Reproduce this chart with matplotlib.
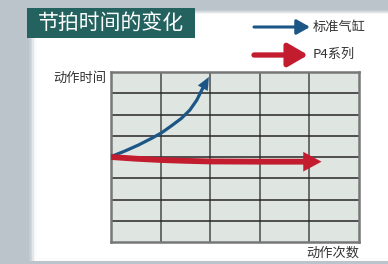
import matplotlib.pyplot as plt
from matplotlib.patches import Rectangle

plt.rcParams['font.family'] = ['Noto Sans CJK SC', 'DejaVu Sans']

title = '节拍时间的变化'
x_label = '动作次数'
y_label = '动作时间'
series_names = ['标准气缸', 'P4系列']

# standard cylinder: time grows with number of actions
std_x = [0.0, 0.28, 0.55, 0.82, 1.02, 1.22, 1.42, 1.59, 1.73, 1.83, 1.9, 2.0]
std_y = [4.02, 4.28, 4.56, 4.88, 5.14, 5.47, 5.82, 6.21, 6.68, 7.15, 7.45, 7.88]
# P4 series: stays almost flat
p4_x = [0.0, 0.5, 1.0, 1.5, 2.0, 3.0, 3.9, 4.3]
p4_y = [4.0, 3.92, 3.86, 3.82, 3.79, 3.78, 3.78, 3.78]

n_cols = 5
n_rows = 8

blue = '#1b5686'
red = '#c21c2e'
teal = '#23625f'

fig = plt.figure(figsize=(3.88, 2.64), dpi=100)
fig.patch.set_facecolor('#bcc4cb')

W, H = 388.0, 264.0
# soft shadow of the white card
for i, a in enumerate([0.15, 0.25, 0.4, 0.6, 0.8]):
    fig.patches.append(Rectangle(((29 + i * 1.5) / W, 3 / H),
                                 1, (251 - i * 1.0) / H,
                                 transform=fig.transFigure, facecolor='white',
                                 alpha=a, edgecolor='none', zorder=0))
fig.patches.append(Rectangle((37 / W, 6 / H), 1, 244 / H,
                             transform=fig.transFigure, facecolor='white',
                             edgecolor='none', zorder=0))

# title box
fig.patches.append(Rectangle((27 / W, (H - 38) / H), 168 / W, 30 / H,
                             transform=fig.transFigure, facecolor=teal,
                             edgecolor='none', zorder=1))
fig.text(111 / W, (H - 23) / H, title, color='white', fontsize=15,
         ha='center', va='center', zorder=2)

ax = fig.add_axes([111 / W, 22 / H, 248 / W, 170 / H])
ax.set_zorder(5)
ax.set_facecolor('#dfe5e1')
ax.set_xlim(0, n_cols)
ax.set_ylim(0, n_rows)
for i in range(1, n_cols):
    ax.axvline(i, color='#4a4a4a', lw=1.1, zorder=1)
for j in range(1, n_rows):
    ax.axhline(j, color='#262626', lw=1.1, zorder=1)
for s in ax.spines.values():
    s.set_color('#777777')
    s.set_linewidth(1.8)
ax.set_xticks([])
ax.set_yticks([])

# curves with arrow heads
ax.plot(std_x[:-1], std_y[:-1], color=blue, lw=2.3, solid_capstyle='butt',
        solid_joinstyle='round', zorder=3)
ax.annotate('', xy=(std_x[-1], std_y[-1]), xytext=(std_x[-3], std_y[-3]),
            arrowprops=dict(arrowstyle='-|>,head_length=0.9,head_width=0.4',
                            color=blue, lw=0.1, mutation_scale=10), zorder=4)
ax.plot(p4_x[:-1], p4_y[:-1], color=red, lw=4.2, solid_capstyle='butt',
        solid_joinstyle='round', zorder=3)
ax.annotate('', xy=(p4_x[-1], p4_y[-1]), xytext=(p4_x[-2], p4_y[-2]),
            arrowprops=dict(arrowstyle='-|>,head_length=1.3,head_width=0.7',
                            color=red, lw=0.1, mutation_scale=10), zorder=4)

fig.text(106 / W, (H - 78) / H, y_label, fontsize=9.5, color='#333333',
         ha='right', va='center')
fig.text(359 / W, (H - 253) / H, x_label, fontsize=9.5, color='#333333',
         ha='right', va='center')

# legend arrows
ax.annotate('', xy=(310, H - 27), xytext=(254, H - 27),
            xycoords='figure pixels', textcoords='figure pixels',
            arrowprops=dict(arrowstyle='-|>,head_length=0.8,head_width=0.45',
                            color=blue, lw=2.2, mutation_scale=10,
                            shrinkA=0, shrinkB=0), annotation_clip=False)
ax.annotate('', xy=(308, H - 55), xytext=(254, H - 55),
            xycoords='figure pixels', textcoords='figure pixels',
            arrowprops=dict(arrowstyle='-|>,head_length=1.2,head_width=0.7',
                            color=red, lw=3.8, mutation_scale=10,
                            shrinkA=0, shrinkB=0), annotation_clip=False)
fig.text(313 / W, (H - 27) / H, series_names[0], fontsize=9.5, color='#333333',
         va='center', ha='left')
fig.text(313 / W, (H - 54) / H, series_names[1], fontsize=9.5, color='#333333',
         va='center', ha='left')

fig.savefig('out.png', dpi=100, facecolor=fig.get_facecolor())
